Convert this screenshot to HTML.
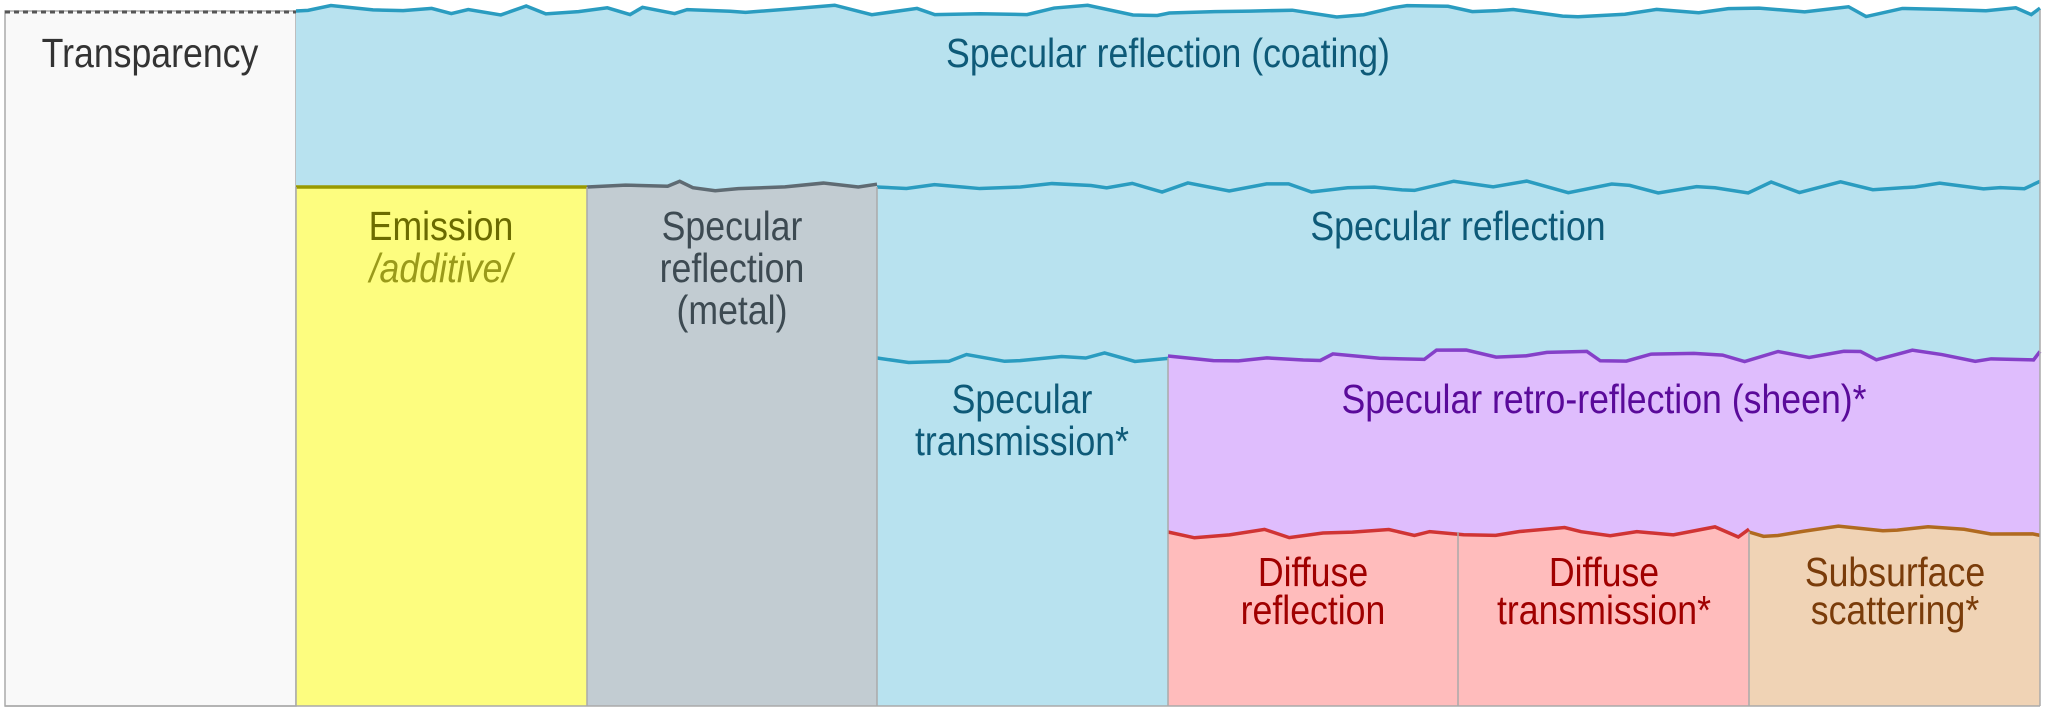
<!DOCTYPE html>
<html><head><meta charset="utf-8">
<style>
html,body{margin:0;padding:0;background:#fff;}
svg{display:block}
text{font-family:"Liberation Sans Narrow","Liberation Sans",sans-serif;font-size:41px;text-anchor:middle;}
</style></head>
<body>
<svg id="s" width="2046" height="708" viewBox="0 0 2046 708" xmlns="http://www.w3.org/2000/svg">
<rect x="0" y="0" width="2046" height="708" fill="#fff"/>
<rect x="5" y="11" width="291" height="695" fill="#f9f9f9" stroke="#aaa" stroke-width="1.5"/>
<line x1="5" y1="12" x2="296" y2="12" stroke="#555" stroke-width="3" stroke-dasharray="5,4"/>
<g id="layers"></g>
<g stroke="#aaa" stroke-width="1.5">
<line x1="296" y1="187" x2="296" y2="706"/>
<line x1="587" y1="187" x2="587" y2="706"/>
<line x1="877" y1="187" x2="877" y2="706"/>
<line x1="1168" y1="358" x2="1168" y2="706"/>
<line x1="1458" y1="532" x2="1458" y2="706"/>
<line x1="1749" y1="532" x2="1749" y2="706"/>
<line x1="2040" y1="10" x2="2040" y2="706"/>
<line x1="5" y1="706" x2="2040" y2="706"/>
</g>
<g id="labels">
<text x="150" y="67" fill="#333">Transparency</text>
<text x="1168" y="67" fill="#0e5a78">Specular reflection (coating)</text>
<text x="441" y="240" fill="#6b6b00">Emission</text>
<text x="441" y="282" fill="#9a9a1a" font-style="italic">/additive/</text>
<text x="732" y="240" fill="#3d4a52">Specular</text>
<text x="732" y="282" fill="#3d4a52">reflection</text>
<text x="732" y="324" fill="#3d4a52">(metal)</text>
<text x="1458" y="240" fill="#0e5a78">Specular reflection</text>
<text x="1022" y="413" fill="#0e5a78">Specular</text>
<text x="1022" y="455" fill="#0e5a78">transmission*</text>
<text x="1604" y="413" fill="#5a0a9a">Specular retro-reflection (sheen)*</text>
<text x="1313" y="586" fill="#a00000">Diffuse</text>
<text x="1313" y="624" fill="#a00000">reflection</text>
<text x="1604" y="586" fill="#a00000">Diffuse</text>
<text x="1604" y="624" fill="#a00000">transmission*</text>
<text x="1895" y="586" fill="#7a3c0a">Subsurface</text>
<text x="1895" y="624" fill="#7a3c0a">scattering*</text>
</g>
</svg>
<script>
var seed=11;function r(){seed=(seed*16807)%2147483647;return seed/2147483647;}
function wave(x0,x1,y){var p=[[x0,y]];var x=x0;while(x<x1){x+=12+r()*35;if(x>x1)x=x1;p.push([x,y+(r()-0.5)*12]);}return p;}
var g=document.getElementById('layers');var NS="http://www.w3.org/2000/svg";
function layer(x0,x1,y,bot,fill,stroke,flat){
 var p=flat?[[x0,y],[x1,y]]:wave(x0,x1,y);
 var poly=document.createElementNS(NS,'polygon');
 poly.setAttribute('points',p.map(function(a){return a.join(',')}).join(' ')+' '+x1+','+bot+' '+x0+','+bot);
 poly.setAttribute('fill',fill);g.appendChild(poly);
 var pl=document.createElementNS(NS,'polyline');
 pl.setAttribute('points',p.map(function(a){return a.join(',')}).join(' '));
 pl.setAttribute('fill','none');pl.setAttribute('stroke',stroke);pl.setAttribute('stroke-width','3.5');
 g.appendChild(pl);
}
layer(296,2040,11,706,'#b8e2ef','#2a9cc0');
layer(296,587,187,706,'#fdfd7f','#999900',true);
layer(587,877,187,706,'#c2ccd2','#5f6b73');
layer(877,2040,187,706,'#b8e2ef','#2a9cc0');
layer(877,1168,358,706,'#b8e2ef','#2a9cc0');
layer(1168,2040,356,706,'#dfbdfd','#8540c8');
layer(1168,1749,532,706,'#ffbcbc','#d03434');
layer(1749,2040,532,706,'#f0d3b5','#b06a20');
var sx=0.87;
var ts=document.querySelectorAll('#labels text');
for(var i=0;i<ts.length;i++){var t=ts[i];var x=parseFloat(t.getAttribute('x'));t.setAttribute('x',x/sx);t.setAttribute('transform','scale('+sx+',1)');}
</script>
</body></html>
